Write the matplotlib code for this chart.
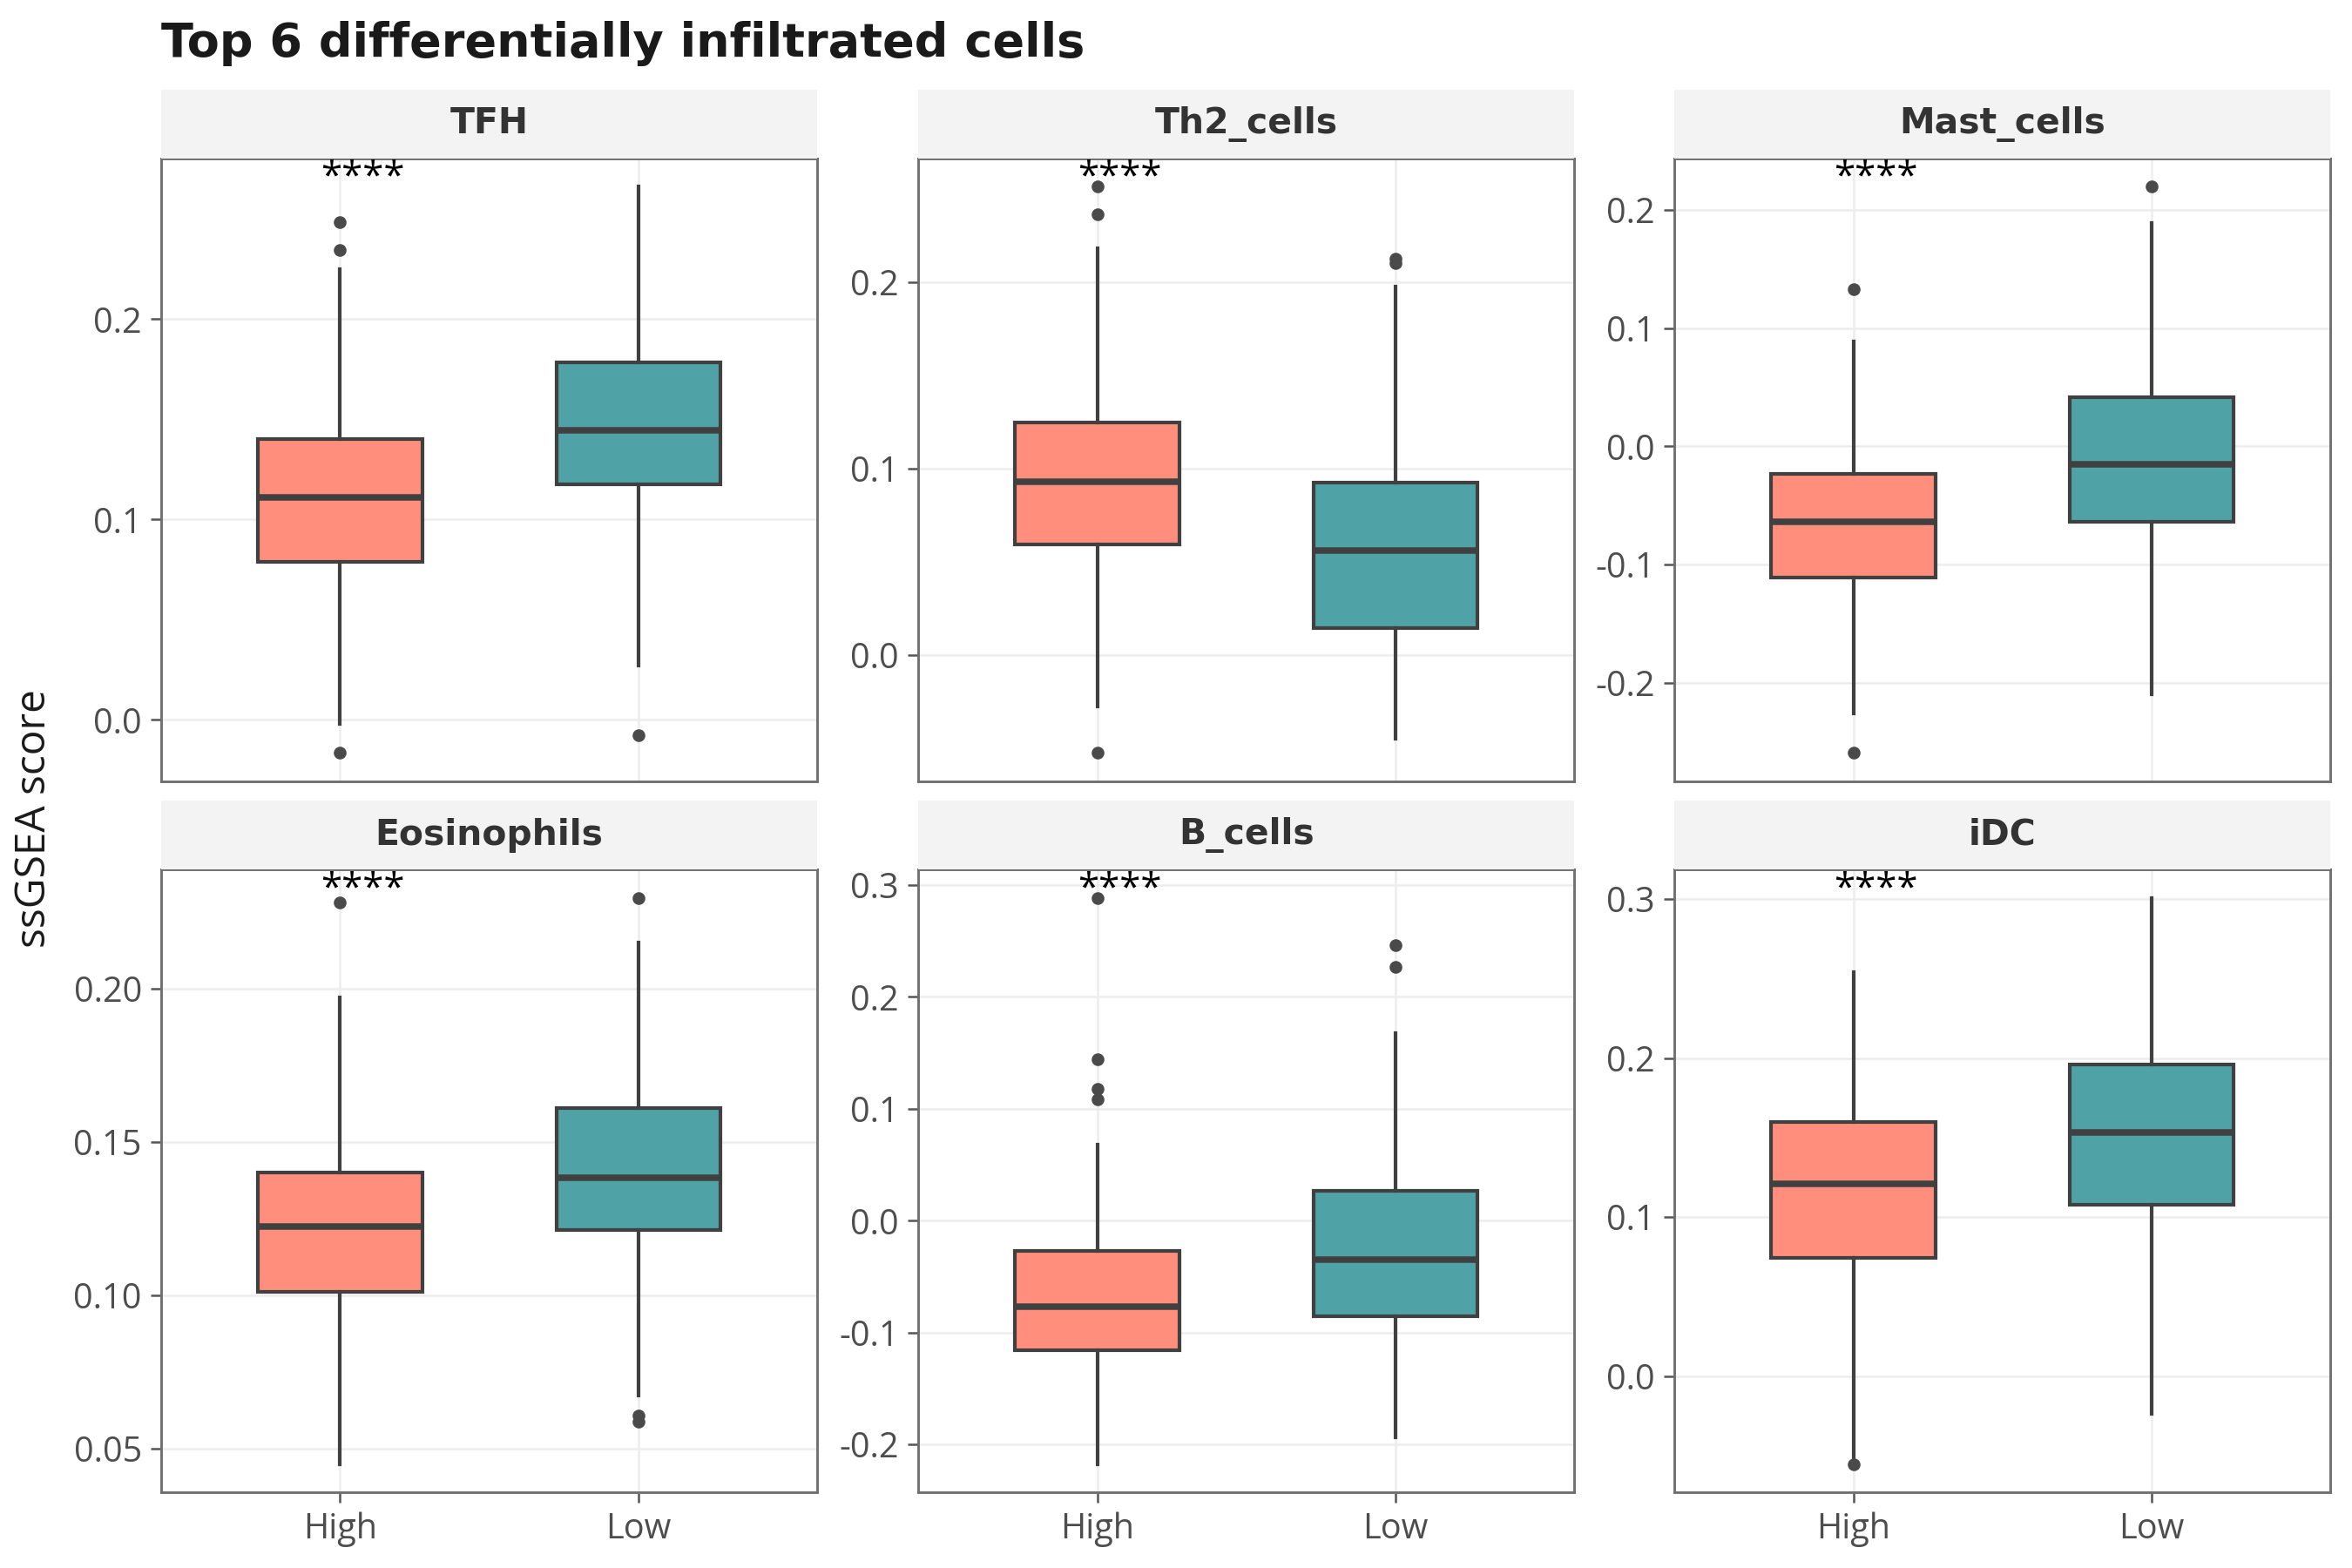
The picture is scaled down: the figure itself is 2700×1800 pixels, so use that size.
import numpy as np
import matplotlib
matplotlib.use('Agg')
import matplotlib.pyplot as plt

# facets and groups
cells = ['TFH', 'Th2_cells', 'Mast_cells', 'Eosinophils', 'B_cells', 'iDC']
groups = ['High', 'Low']

# box stats: (whislo, q1, med, q3, whishi)
high_stats = [
    (-0.002, 0.079, 0.111, 0.140, 0.225),
    (-0.028, 0.059, 0.093, 0.1245, 0.218),
    (-0.226, -0.111, -0.064, -0.023, 0.089),
    (0.045, 0.101, 0.1225, 0.140, 0.197),
    (-0.2175, -0.116, -0.077, -0.027, 0.068),
    (-0.051, 0.0745, 0.121, 0.160, 0.254),
]
low_stats = [
    (0.027, 0.1174, 0.1447, 0.1786, 0.266),
    (-0.0453, 0.0142, 0.056, 0.0923, 0.1974),
    (-0.2095, -0.064, -0.015, 0.0416, 0.189),
    (0.0673, 0.1214, 0.1383, 0.161, 0.2149),
    (-0.194, -0.0858, -0.0347, 0.0269, 0.1675),
    (-0.0234, 0.1079, 0.1533, 0.1958, 0.3005),
]
high_fliers = [
    [0.2485, 0.2343, -0.0164],
    [0.2511, 0.2365, -0.0526],
    [0.1333, -0.2592],
    [0.228],
    [0.2884, 0.1444, 0.1175, 0.1086],
    [-0.0551],
]
low_fliers = [
    [-0.0076],
    [0.2124, 0.2103],
    [0.2196],
    [0.2295, 0.0609, 0.0588],
    [0.2466, 0.2272],
    [],
]
signif = ['****'] * 6

yticks = [
    [0.0, 0.1, 0.2],
    [0.0, 0.1, 0.2],
    [-0.2, -0.1, 0.0, 0.1, 0.2],
    [0.05, 0.10, 0.15, 0.20],
    [-0.2, -0.1, 0.0, 0.1, 0.2, 0.3],
    [0.0, 0.1, 0.2, 0.3],
]
ytick_labels = [
    ['0.0', '0.1', '0.2'],
    ['0.0', '0.1', '0.2'],
    ['-0.2', '-0.1', '0.0', '0.1', '0.2'],
    ['0.05', '0.10', '0.15', '0.20'],
    ['-0.2', '-0.1', '0.0', '0.1', '0.2', '0.3'],
    ['0.0', '0.1', '0.2', '0.3'],
]

fill_colors = ['#FF8F7C', '#4FA3A7']
edge = '#404040'

fig = plt.figure(figsize=(9, 6), dpi=300)

lefts = [0.0685, 0.3904, 0.7119]
bottoms = [0.5019, 0.0483]
w, h = 0.279, 0.397
strip_h = 0.0440

for i, cell in enumerate(cells):
    r, c = divmod(i, 3)
    ax = fig.add_axes([lefts[c], bottoms[r], w, h])

    stats = []
    for s, fl, lab in [(high_stats[i], high_fliers[i], 'High'), (low_stats[i], low_fliers[i], 'Low')]:
        stats.append(dict(whislo=s[0], q1=s[1], med=s[2], q3=s[3], whishi=s[4],
                          fliers=fl, label=lab))
    bp = ax.bxp(stats, positions=[1, 2], widths=0.55, patch_artist=True,
                showcaps=False,
                boxprops=dict(edgecolor=edge, linewidth=1.0),
                medianprops=dict(color=edge, linewidth=1.8, solid_capstyle='butt'),
                whiskerprops=dict(color=edge, linewidth=1.0),
                flierprops=dict(marker='o', markersize=2.5, markerfacecolor='#4A4A4A',
                                markeredgecolor='#4A4A4A', linestyle='none'))
    for patch, col in zip(bp['boxes'], fill_colors):
        patch.set_facecolor(col)
        patch.set_zorder(2)
    for ln in bp['medians'] + bp['whiskers'] + bp['fliers']:
        ln.set_zorder(3)

    # ggplot-like 5% expansion of the data range
    vals = [v for s in (high_stats[i], low_stats[i]) for v in s] + high_fliers[i] + low_fliers[i]
    lo, hi = min(vals), max(vals)
    pad = 0.05 * (hi - lo)
    ax.set_ylim(lo - pad, hi + pad)
    ax.set_xlim(0.4, 2.6)

    ax.set_yticks(yticks[i])
    ax.set_yticklabels(ytick_labels[i], family='Open Sans', fontsize=9.5, color='#4D4D4D')
    ax.set_xticks([1, 2])
    if r == 1:
        ax.set_xticklabels(groups, family='Open Sans', fontsize=9.5, color='#4D4D4D')
        ax.tick_params(axis='x', length=2.8, width=0.6, color='#555555', pad=2.5)
    else:
        ax.set_xticklabels([])
        ax.tick_params(axis='x', length=0)
    ax.tick_params(axis='y', length=2.8, width=0.6, color='#555555', pad=2.5)

    ax.grid(True, color='#EDEDED', linewidth=0.6, zorder=0)
    ax.set_axisbelow(True)
    for sp in ax.spines.values():
        sp.set_color('#707070')
        sp.set_linewidth(0.7)

    ax.text(1.075, hi + pad, signif[i], ha='center', va='top', fontsize=10.5,
            family='Open Sans', color='black', zorder=5)

    # facet strip
    sax = fig.add_axes([lefts[c], bottoms[r] + h, w, strip_h])
    sax.set_facecolor('#F3F3F3')
    sax.set_xticks([])
    sax.set_yticks([])
    for sp in sax.spines.values():
        sp.set_visible(False)
    sax.text(0.5, 0.5, cell, ha='center', va='center', fontsize=9.8,
             fontweight='bold', color='#333333', transform=sax.transAxes)

fig.text(0.0685, 0.964, 'Top 6 differentially infiltrated cells', ha='left',
         va='baseline', fontsize=13, fontweight='bold', color='#1A1A1A')
fig.text(0.0145, 0.478, 'ssGSEA score', rotation=90, ha='center', va='center',
         fontsize=11.5, family='Open Sans', color='#1A1A1A')

fig.savefig('out.png', dpi=300)
